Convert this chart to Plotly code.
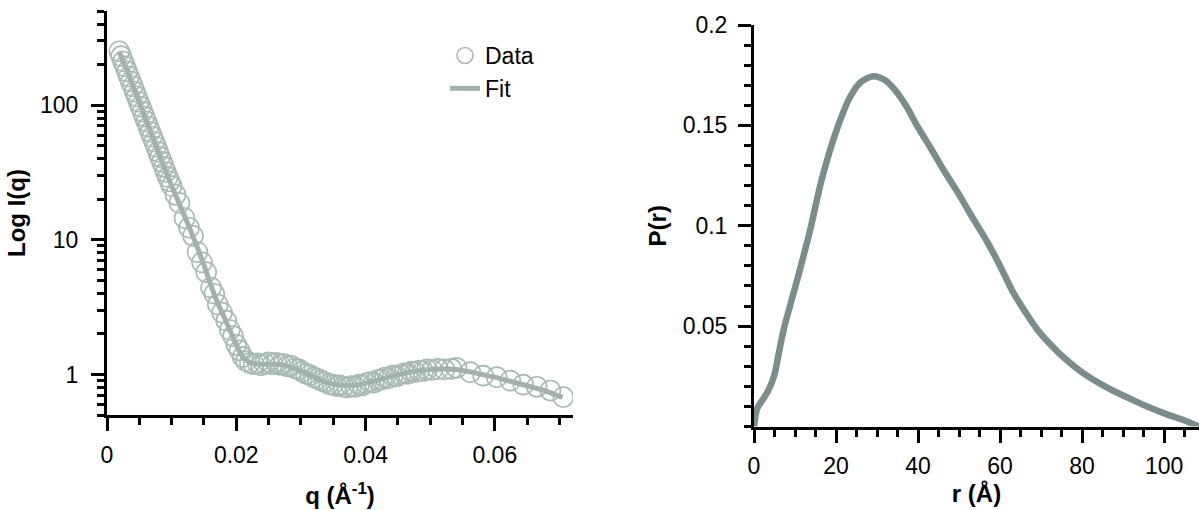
import plotly.graph_objects as go

# ---- Left panel: SAXS data and fit ----
q_data = [0.0019, 0.0022, 0.0025, 0.0028, 0.0031, 0.0034, 0.0037, 0.0040, 0.0043, 0.0046,
          0.0049, 0.0052, 0.0055, 0.0058, 0.0061, 0.0064, 0.0067, 0.0070, 0.0073, 0.0076,
          0.0079, 0.0082, 0.0085, 0.0088, 0.0091, 0.0094, 0.0097, 0.0100,
          0.0106, 0.0112, 0.0120, 0.0127, 0.0133, 0.0140, 0.0147, 0.01535, 0.0161, 0.0166,
          0.01715, 0.0178, 0.01845, 0.0190, 0.0195, 0.0200, 0.0205, 0.0210, 0.0215,
          0.0221, 0.0227, 0.0233, 0.0238, 0.0244, 0.0250, 0.0256, 0.0262, 0.0268, 0.0273,
          0.0279, 0.0285, 0.0291, 0.0297, 0.0302, 0.0308, 0.0314, 0.0320, 0.0326, 0.0331,
          0.0337, 0.0343, 0.0349, 0.0355, 0.0360, 0.0366, 0.0372, 0.0378, 0.0384, 0.0390,
          0.0395, 0.0401, 0.0407, 0.0413, 0.0419, 0.0425, 0.0430, 0.0436, 0.0442, 0.0448,
          0.0454, 0.0460, 0.0465, 0.0471, 0.0477, 0.0483, 0.0489, 0.0495, 0.0503, 0.0512,
          0.0522, 0.0533,
          0.0541, 0.0562, 0.0582, 0.0603, 0.0624, 0.0644, 0.0665, 0.0686, 0.0706]
I_data = [251, 231, 211, 194, 178, 163, 150, 138, 126, 116,
          106, 97.7, 89.5, 82.2, 75.5, 69.2, 63.5, 58.3, 53.5, 49.1,
          45.1, 41.3, 37.9, 34.8, 31.9, 29.3, 27.2, 25.1,
          21.6, 18.8, 14.5, 12.3, 10.7, 8.1, 6.8, 5.75, 4.42, 3.98,
          3.31, 2.88, 2.51, 2.14, 1.93, 1.66, 1.51, 1.35, 1.26,
          1.22, 1.19, 1.21, 1.17, 1.20, 1.23, 1.19, 1.22, 1.18, 1.20,
          1.15, 1.16, 1.11, 1.09, 1.05, 1.01, 0.99, 0.95, 0.93, 0.90,
          0.88, 0.85, 0.84, 0.82, 0.83, 0.81, 0.80, 0.82, 0.81, 0.84,
          0.83, 0.86, 0.88, 0.87, 0.91, 0.92, 0.95, 0.94, 0.98, 0.97,
          1.00, 1.02, 1.01, 1.05, 1.04, 1.07, 1.06, 1.09, 1.08, 1.10,
          1.09, 1.10,
          1.12, 1.04, 0.98, 0.955, 0.90, 0.84, 0.81, 0.76, 0.68]

q_fit = [0.0019, 0.0025, 0.003, 0.004, 0.005, 0.006, 0.007, 0.008, 0.009, 0.010,
         0.011, 0.012, 0.013, 0.014, 0.015, 0.016, 0.017, 0.018, 0.019, 0.020,
         0.021, 0.022, 0.023, 0.024, 0.025, 0.026, 0.027, 0.028, 0.029, 0.030,
         0.031, 0.032, 0.033, 0.034, 0.035, 0.036, 0.037, 0.038, 0.039, 0.040,
         0.042, 0.044, 0.046, 0.048, 0.050, 0.052, 0.054, 0.056, 0.058, 0.060,
         0.062, 0.064, 0.066, 0.068, 0.0705]
I_fit = [251, 211, 186, 140, 105, 78.5, 58.9, 44.2, 33.1, 25.1,
         19.5, 15.0, 11.5, 8.7, 6.5, 4.7, 3.5, 2.75, 2.14, 1.66,
         1.35, 1.23, 1.20, 1.19, 1.19, 1.19, 1.18, 1.15, 1.11, 1.06,
         1.01, 0.96, 0.91, 0.875, 0.85, 0.835, 0.83, 0.83, 0.84, 0.86,
         0.91, 0.97, 1.02, 1.06, 1.09, 1.10, 1.09, 1.05, 1.00, 0.955,
         0.90, 0.85, 0.80, 0.75, 0.675]

# ---- Right panel: pair distance distribution ----
r_vals = [0, 0.8, 2, 3.5, 5, 6, 7.2, 10.4, 13.7, 16.5, 20.2, 23.4, 26, 29.1, 32, 34,
          37, 40, 43, 46, 50, 53, 57, 60, 63, 66, 69, 72, 76, 80, 86, 91, 96,
          101, 105, 108.5]
P_vals = [0, 0.009, 0.013, 0.018, 0.026, 0.036, 0.048, 0.072, 0.098, 0.123, 0.148,
          0.164, 0.1715, 0.1745, 0.1725, 0.1685, 0.160, 0.149, 0.139, 0.1285, 0.1155,
          0.105, 0.0915, 0.080, 0.0675, 0.0575, 0.0485, 0.0415, 0.0335, 0.027, 0.0195,
          0.0145, 0.0098, 0.0058, 0.003, 0]

left_ticks = [1, 10, 100]
left_ticktext = ["1", "10", "100"]
right_ticks = [0.05, 0.1, 0.15, 0.2]
right_ticktext = ["0.05", "0.1", "0.15", "0.2"]

FONT = "Liberation Sans, Arial, sans-serif"
AXC = "#000000"

fig = go.Figure()
fig.add_trace(go.Scatter(
    x=q_data, y=I_data, mode="markers", name="Data",
    marker=dict(symbol="circle-open", size=20, color="#a9bab6", line=dict(width=1.6)),
    xaxis="x", yaxis="y"))
fig.add_trace(go.Scatter(
    x=q_fit, y=I_fit, mode="lines", name="Fit",
    line=dict(color="#a3b1ad", width=5, shape="spline", smoothing=0.6),
    xaxis="x", yaxis="y"))
fig.add_trace(go.Scatter(
    x=r_vals, y=P_vals, mode="lines", showlegend=False,
    line=dict(color="#7a8c8b", width=6.5, shape="spline", smoothing=0.8),
    xaxis="x2", yaxis="y2"))

PT, PB = 10, 83
PL = 107
W, H = 1199, 510
ph = H - PT - PB
pw = W - PL


def ydom(top_px, bot_px):
    return [(H - PB - bot_px) / ph, (H - PB - top_px) / ph]


def axis_style(minor_dtick):
    return dict(
        showline=True, linecolor=AXC, linewidth=3, mirror=False,
        ticks="outside", ticklen=13, tickwidth=3, tickcolor=AXC,
        showgrid=False, zeroline=False, automargin=False,
        tickfont=dict(family=FONT, size=23, color="black"),
        minor=dict(ticks="outside", ticklen=7, tickwidth=3, tickcolor=AXC,
                   dtick=minor_dtick, showgrid=False),
    )


fig.update_layout(
    width=W, height=H,
    margin=dict(l=PL, r=0, t=PT, b=PB),
    paper_bgcolor="white", plot_bgcolor="white",
    font=dict(family=FONT, color="black"),
    template="none",
    showlegend=True,
    legend=dict(x=(445 - PL) / pw, y=(H - PB - 34) / ph,
                xanchor="left", yanchor="top",
                font=dict(family=FONT, size=23, color="black"),
                bgcolor="rgba(0,0,0,0)"),
)
fig.update_layout(
    xaxis=dict(**axis_style(0.005), domain=[0, (573 - PL) / pw], range=[0, 0.0721],
               tick0=0, dtick=0.02, ticklabelstandoff=4,
               title=dict(text="<b>q (Å<sup>-1</sup>)</b>", font=dict(family=FONT, size=24), standoff=21),
               anchor="y"),
    yaxis=dict(**axis_style("D1"), domain=ydom(11, 415), type="log",
               range=[-0.30103, 2.69897],
               tickvals=left_ticks, ticktext=left_ticktext, ticklabelstandoff=8,
               title=dict(text="<b>Log I(q)</b>", font=dict(family=FONT, size=24), standoff=8),
               anchor="x"),
    xaxis2=dict(**axis_style(5), domain=[(754 - PL) / pw, 1], range=[0, 108.5],
                tick0=0, dtick=20, ticklabelstandoff=4,
                title=dict(text="<b>r (Å)</b>", font=dict(family=FONT, size=24), standoff=8),
                anchor="y2"),
    yaxis2=dict(**axis_style(0.01), domain=ydom(25, 426.5), range=[0, 0.2],
                tickvals=right_ticks, ticktext=right_ticktext, ticklabelstandoff=6,
                title=dict(text="<b>P(r)</b>", font=dict(family=FONT, size=24), standoff=10),
                anchor="x2"),
)

fig.write_html("out.html", config={"displayModeBar": False},
               post_script="document.body.style.margin='0';")
